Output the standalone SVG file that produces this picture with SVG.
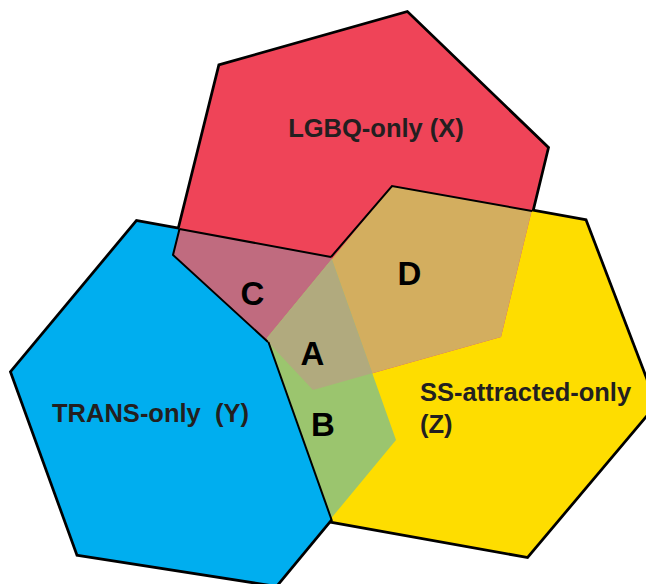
<svg xmlns="http://www.w3.org/2000/svg" xmlns:xlink="http://www.w3.org/1999/xlink" width="646" height="584" viewBox="0 0 646 584">
<style>
.under{fill:none;stroke:#000;stroke-width:5.5;stroke-linejoin:miter}
.line{fill:none;stroke:#000;stroke-width:2;stroke-linejoin:miter}
.lbl{font-family:"Liberation Sans",Arial,sans-serif;font-weight:bold;font-size:25.5px;fill:#231F20}
.let{font-family:"Liberation Sans",Arial,sans-serif;font-weight:bold;font-size:33px;fill:#000;text-anchor:middle}
</style>
<defs>
<polygon id="pX" points="220,66 407,13 547,148 501,337 313,390 268,342 173,255"/>
<polygon id="pY" points="137,222 331,257 396,440 276,585 78,554 12,372"/>
<polygon id="pZ" points="267,338 392,186 585,221 655,404 527,556 332,521"/>
<clipPath id="cY"><polygon points="137,222 331,257 396,440 276,585 78,554 12,372"/></clipPath>
<clipPath id="cZ"><polygon points="267,338 392,186 585,221 655,404 527,556 332,521"/></clipPath>
</defs>
<g id="outline">
<use xlink:href="#pX" class="under"/>
<use xlink:href="#pY" class="under"/>
<use xlink:href="#pZ" class="under"/>
</g>
<g id="node-trans">
<use xlink:href="#pY" fill="#00AEEF"/>
<text class="lbl" x="150.5" y="422" text-anchor="middle" xml:space="preserve">TRANS-only  (Y)</text>
</g>
<g id="node-ss">
<use xlink:href="#pZ" fill="#FEDD00"/>
<text class="lbl" x="420" y="401">SS-attracted-only</text>
<text class="lbl" x="420" y="433">(Z)</text>
</g>
<g id="node-lgbq">
<use xlink:href="#pX" fill="#EF4458"/>
<text class="lbl" x="376" y="137" text-anchor="middle">LGBQ-only (X)</text>
</g>
<g id="overlaps">
<g id="region-C"><use xlink:href="#pX" fill="#C06B7F" clip-path="url(#cY)"/></g>
<g id="region-D"><use xlink:href="#pX" fill="#D3AE5F" clip-path="url(#cZ)"/></g>
<g id="region-B"><use xlink:href="#pY" fill="#9BC56E" clip-path="url(#cZ)"/></g>
<g id="region-A" clip-path="url(#cZ)"><use xlink:href="#pX" fill="#B1AA7E" clip-path="url(#cY)"/></g>
</g>
<g id="borders">
<polyline class="line" points="179.5,229 331,257"/>
<polyline class="line" points="179.5,229 173,255 268,342"/>
<polyline class="line" points="268.4,342 332,521"/>
<polyline class="line" points="331,257 392,186 532,211"/>
</g>
<g id="letters">
<text class="let" x="252.5" y="305">C</text>
<text class="let" x="312.5" y="365">A</text>
<text class="let" x="323" y="436">B</text>
<text class="let" x="409.5" y="285">D</text>
</g>
</svg>
